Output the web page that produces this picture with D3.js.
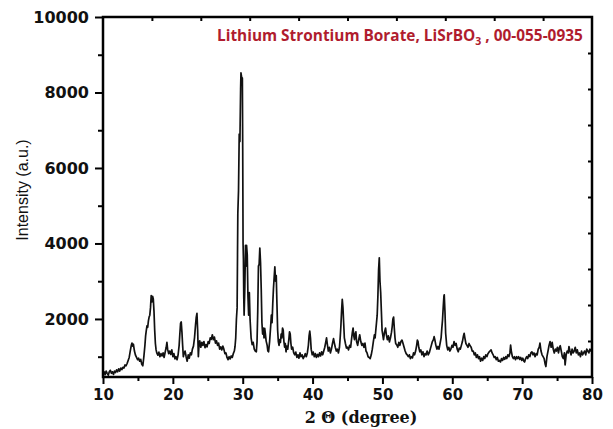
<!DOCTYPE html>
<html>
<head>
<meta charset="utf-8">
<script src="https://cdn.jsdelivr.net/npm/d3@7"></script>
<style>
  html, body { margin: 0; padding: 0; background: #fff; }
  svg { display: block; }
</style>
</head>
<body>
<svg id="chart" width="613" height="429"></svg>
<script>
const twoTheta = [
10.0,10.15,10.3,10.45,10.6,10.75,10.9,11.05,11.2,11.35,11.5,11.65,11.8,11.95,12.1,12.25,12.4,12.55,12.7,12.85,
13.0,13.15,13.3,13.45,13.6,13.75,13.9,14.05,14.15,14.25,14.35,14.5,14.65,14.8,14.95,15.1,15.25,15.4,15.55,15.7,
15.85,16.0,16.1,16.2,16.3,16.4,16.5,16.6,16.7,16.8,16.9,17.0,17.1,17.2,17.3,17.4,17.5,17.6,17.7,17.85,
18.0,18.15,18.3,18.45,18.6,18.75,18.9,19.05,19.15,19.25,19.4,19.55,19.7,19.85,20.0,20.15,20.3,20.45,20.6,20.75,
20.9,21.0,21.1,21.2,21.3,21.4,21.5,21.6,21.75,21.9,22.05,22.2,22.35,22.5,22.65,22.8,22.95,23.1,23.25,23.35,
23.45,23.55,23.65,23.75,23.85,24.0,24.15,24.3,24.45,24.6,24.75,24.9,25.05,25.2,25.35,25.5,25.65,25.8,25.95,26.1,
26.25,26.4,26.55,26.7,26.85,27.0,27.15,27.3,27.45,27.6,27.75,27.9,28.05,28.2,28.35,28.5,28.65,28.8,28.9,29.0,
29.1,29.2,29.3,29.4,29.5,29.6,29.7,29.75,29.85,29.95,30.0,30.05,30.1,30.15,30.2,30.3,30.4,30.5,30.55,30.65,
30.75,30.85,30.95,31.05,31.2,31.35,31.5,31.65,31.8,31.95,32.05,32.15,32.25,32.35,32.45,32.55,32.65,32.75,32.85,32.95,
33.05,33.15,33.25,33.35,33.5,33.6,33.7,33.85,34.0,34.1,34.2,34.3,34.4,34.5,34.6,34.7,34.8,34.9,35.0,35.1,
35.2,35.3,35.4,35.5,35.6,35.7,35.8,35.9,36.0,36.1,36.2,36.3,36.45,36.6,36.7,36.8,36.9,37.0,37.15,37.3,
37.45,37.6,37.75,37.9,38.05,38.2,38.35,38.5,38.65,38.8,38.95,39.1,39.25,39.4,39.5,39.6,39.7,39.8,39.95,40.1,
40.25,40.4,40.55,40.7,40.85,41.0,41.15,41.3,41.45,41.6,41.75,41.9,42.0,42.1,42.25,42.4,42.55,42.7,42.85,43.0,
43.1,43.25,43.4,43.55,43.7,43.85,43.95,44.05,44.15,44.25,44.35,44.45,44.55,44.7,44.85,45.0,45.15,45.3,45.45,45.6,
45.7,45.8,45.9,46.0,46.1,46.2,46.3,46.45,46.6,46.75,46.9,47.05,47.2,47.35,47.5,47.65,47.8,47.95,48.1,48.25,
48.4,48.55,48.7,48.85,48.95,49.05,49.15,49.25,49.35,49.45,49.55,49.65,49.75,49.85,49.95,50.05,50.15,50.3,50.45,50.55,
50.7,50.85,51.0,51.15,51.3,51.4,51.5,51.6,51.7,51.8,51.9,52.05,52.2,52.35,52.5,52.65,52.8,52.95,53.1,53.25,
53.4,53.55,53.7,53.85,54.0,54.15,54.3,54.45,54.6,54.75,54.9,55.0,55.1,55.2,55.35,55.5,55.65,55.8,55.95,56.1,
56.25,56.4,56.55,56.7,56.85,57.0,57.15,57.3,57.4,57.5,57.65,57.8,57.95,58.1,58.25,58.4,58.5,58.6,58.7,58.8,
58.85,58.95,59.05,59.2,59.35,59.5,59.65,59.8,59.95,60.1,60.25,60.4,60.55,60.7,60.85,61.0,61.15,61.3,61.45,61.6,
61.7,61.8,61.95,62.1,62.25,62.4,62.55,62.7,62.85,63.0,63.15,63.3,63.45,63.6,63.75,63.9,64.05,64.2,64.35,64.5,
64.65,64.8,64.95,65.1,65.25,65.4,65.55,65.7,65.85,66.0,66.15,66.3,66.45,66.6,66.75,66.9,67.05,67.2,67.35,67.5,
67.65,67.8,67.95,68.1,68.25,68.35,68.45,68.6,68.75,68.9,69.05,69.2,69.35,69.5,69.65,69.8,69.95,70.1,70.25,70.35,
70.5,70.65,70.8,70.95,71.1,71.25,71.4,71.55,71.7,71.85,72.0,72.15,72.3,72.45,72.55,72.7,72.85,73.0,73.15,73.3,
73.4,73.55,73.7,73.85,74.0,74.15,74.3,74.45,74.6,74.75,74.9,75.05,75.2,75.35,75.45,75.6,75.75,75.9,76.05,76.15,
76.3,76.45,76.6,76.7,76.85,77.0,77.15,77.3,77.45,77.6,77.75,77.9,78.05,78.2,78.35,78.5,78.65,78.8,78.95,79.1,
79.25,79.4,79.55,79.7,79.85,80.0
];
const intensity = [
540,600,520,620,560,510,600,640,560,600,530,620,580,650,600,680,620,700,660,720,
700,780,760,820,900,980,1150,1300,1360,1280,1330,1150,1040,980,920,960,880,930,800,760,
1000,1300,1550,1700,1820,1780,1950,2050,2100,2300,2620,2450,2600,2530,2200,1700,1350,1180,1100,1040,
1120,1000,1080,1020,1100,980,1120,1250,1380,1200,1080,1150,1060,1180,1000,1080,940,1000,920,1050,
1300,1600,1880,1920,1650,1300,1000,1080,1150,1000,880,1050,960,1100,1050,1200,1280,1500,1850,2050,
2150,1700,1000,1350,1420,1250,1380,1300,1400,1240,1320,1260,1400,1350,1500,1460,1580,1450,1520,1360,
1420,1300,1360,1200,1260,1180,1280,1200,1080,1100,980,920,1000,940,1020,980,1080,1150,1270,1500,
2000,2300,4800,5400,6900,6700,8100,8520,8400,8380,6500,4000,3600,2600,2100,2800,3950,3400,3950,3700,
2600,2100,2700,2000,1500,1320,1380,1200,1150,1130,1400,2200,3400,3450,3880,3500,2800,1900,1600,1760,
1500,1750,1600,1420,1300,1150,1130,1400,1800,2100,1900,2400,2800,3100,3380,3000,3150,2400,1700,1400,
1300,1450,1380,1600,1500,1760,1700,1400,1250,1350,1130,1280,1200,1450,1660,1600,1350,1200,1250,1100,
1050,1120,980,1050,960,1100,1000,1050,950,1000,1080,1000,1100,1300,1550,1680,1500,1200,1050,1120,
1000,1080,980,1060,1000,1100,1020,1130,1050,1150,1250,1400,1500,1350,1150,1250,1100,1200,1350,1480,
1380,1250,1150,1200,1100,1250,1500,1800,2200,2520,2300,1900,1500,1350,1230,1250,1180,1300,1250,1500,
1650,1760,1550,1450,1600,1660,1400,1300,1450,1580,1400,1300,1350,1250,1360,1150,1100,1000,980,950,
1050,1200,1400,1580,1500,1700,1900,2100,2600,3300,3620,3000,2700,2200,1700,1580,1450,1650,1760,1600,
1450,1550,1390,1500,1650,1800,2000,2050,1750,1500,1350,1310,1250,1380,1300,1400,1440,1350,1250,1150,
1080,1050,1000,1050,950,1000,970,1100,1050,1150,1300,1440,1400,1250,1130,1180,1050,1130,1000,1080,
1050,1150,1050,1100,1200,1300,1400,1450,1530,1450,1300,1200,1270,1200,1350,1500,1750,1970,2300,2600,
2640,2200,1620,1300,1180,1250,1150,1200,1300,1250,1400,1300,1350,1200,1130,1230,1200,1300,1400,1550,
1620,1500,1350,1300,1250,1350,1290,1250,1150,1150,1050,1100,980,1050,950,1000,880,960,900,1000,
950,1050,1000,1080,1120,1150,1180,1100,1050,980,1000,920,980,880,900,860,950,900,980,930,
1000,950,1050,1000,1100,1310,1150,1000,950,1000,920,1000,950,1000,930,980,900,960,880,860,
950,1000,950,1050,1000,1100,1130,1050,1100,1000,1080,1050,1200,1250,1360,1150,1050,1000,950,800,
740,1000,1150,1300,1400,1250,1380,1200,1100,1200,1150,1250,1100,1250,1290,1150,1000,950,1100,780,
1050,1150,1100,1270,1150,1050,1200,1100,1150,1250,1100,1180,1050,1100,1000,1150,1050,1100,1150,1050,
1200,1150,1100,1200,1150,1200
];
const xTicks = [10, 20, 30, 40, 50, 60, 70, 80];
const yTicks = [2000, 4000, 6000, 8000, 10000];
const xLabel = "2 Θ (degree)";
const yLabel = "Intensity (a.u.)";
const titleParts = ["Lithium Strontium Borate, LiSrBO", "3", " , 00-055-0935"];

// ---- layout ----
const svg = d3.select("#chart");
const L = 103, R = 592, T = 17, B = 377;
const x = d3.scaleLinear().domain([10, 80]).range([L, R]);
const y = d3.scaleLinear().domain([462, 10000]).range([B, T]);

// data line
const pts = twoTheta.map((t, i) => [t, intensity[i]]);
svg.append("path")
  .datum(pts)
  .attr("fill", "none")
  .attr("stroke", "#111")
  .attr("stroke-width", 1.7)
  .attr("stroke-linejoin", "round")
  .attr("d", d3.line().x(d => x(d[0])).y(d => y(d[1])));

// bottom axis: major + minor
const xMinor = d3.range(15, 80, 10);
const gx = svg.append("g").attr("transform", `translate(0,${B})`);
gx.call(d3.axisBottom(x).tickValues(xTicks).tickSize(7).tickPadding(5).tickFormat(d3.format("d")));
gx.append("g").call(d3.axisBottom(x).tickValues(xMinor).tickSize(4).tickFormat(""));
// left axis
const yMinor = [1000, 3000, 5000, 7000, 9000];
const gy = svg.append("g").attr("transform", `translate(${L},0)`);
gy.call(d3.axisLeft(y).tickValues(yTicks).tickSize(8).tickPadding(6).tickFormat(d3.format("d")));
gy.append("g").call(d3.axisLeft(y).tickValues(yMinor).tickSize(5).tickFormat(""));

// mirrored axes (inward ticks, equal divisions)
const topS = d3.scaleLinear().domain([0, 10]).range([L, R]);
const rightS = d3.scaleLinear().domain([0, 10]).range([T, B]);
svg.append("g").attr("transform", `translate(0,${T})`)
  .call(d3.axisBottom(topS).tickValues(d3.range(1, 10)).tickSize(4).tickFormat(""));
svg.append("g").attr("transform", `translate(${R},0)`)
  .call(d3.axisLeft(rightS).tickValues(d3.range(1, 10)).tickSize(4).tickFormat(""));

svg.selectAll(".domain").remove();
svg.selectAll(".tick line").attr("stroke", "#000").attr("stroke-width", 2);
svg.selectAll(".tick text")
  .attr("font-family", "'DejaVu Sans', sans-serif")
  .attr("font-weight", "bold")
  .attr("font-size", 15)
  .attr("fill", "#111");
gy.selectAll(".tick text").attr("font-size", 16);

// frame
svg.append("rect")
  .attr("x", L).attr("y", T).attr("width", R - L).attr("height", B - T)
  .attr("fill", "none").attr("stroke", "#000").attr("stroke-width", 2.5);

// title
const title = svg.append("text")
  .attr("x", 217).attr("y", 41)
  .attr("font-family", "'Open Sans', Lato, sans-serif")
  .attr("font-weight", "bold")
  .attr("font-size", 15.4)
  .attr("fill", "#b01c2e");
title.append("tspan").text(titleParts[0]);
title.append("tspan").attr("dy", 4).attr("font-size", 10.5).text(titleParts[1]);
title.append("tspan").attr("dy", -4).text(titleParts[2]);

// axis labels
svg.append("text")
  .attr("x", 361).attr("y", 423)
  .attr("text-anchor", "middle")
  .attr("font-family", "'DejaVu Serif', serif")
  .attr("font-weight", "bold")
  .attr("font-size", 16)
  .attr("fill", "#111")
  .text(xLabel);
svg.append("text")
  .attr("transform", "translate(28,190) rotate(-90)")
  .attr("text-anchor", "middle")
  .attr("font-family", "'Liberation Sans', Arial, sans-serif")
  .attr("font-size", 16)
  .attr("fill", "#111")
  .text(yLabel);
</script>
</body>
</html>
